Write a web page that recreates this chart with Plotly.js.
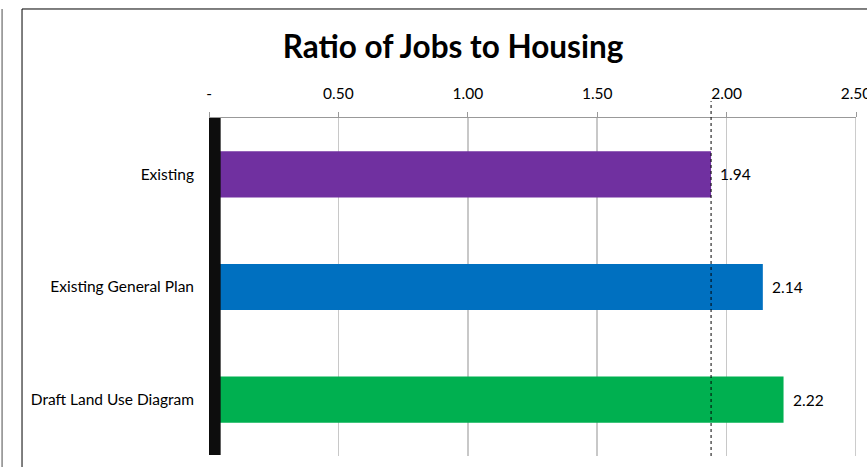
<!DOCTYPE html>
<html>
<head>
<meta charset="utf-8">
<script src="https://cdn.plot.ly/plotly-3.0.1.min.js"></script>
<style>html,body{margin:0;padding:0;background:#fff;}#chart{width:867px;height:467px;}</style>
</head>
<body>
<div id="chart"></div>
<script>
const categories = ["Existing", "Existing General Plan", "Draft Land Use Diagram"];
const ratios = [1.94, 2.14, 2.22];
const barColors = ["#7030A0", "#0070C0", "#00B050"];
const tickValues = [0, 0.5, 1.0, 1.5, 2.0, 2.5];
const tickLabels = ["-", "0.50", "1.00", "1.50", "2.00", "2.50"];
const referenceValue = 1.94;

const FONT = "Lato, 'Open Sans', sans-serif";

const trace = {
  type: "bar",
  orientation: "h",
  y: categories,
  x: ratios,
  marker: { color: barColors },
  width: 0.41,
  hoverinfo: "none"
};

const annotations = ratios.map((v, i) => ({
  x: v, y: categories[i], xref: "x", yref: "y",
  text: v.toFixed(2), showarrow: false,
  xanchor: "left", xshift: 7,
  font: { family: FONT, size: 15.5, color: "#000" }
}));

const shapes = [
  { type: "rect", xref: "paper", yref: "paper", x0: -0.289, x1: 1.03, y0: -0.1, y1: 1.3225,
    line: { color: "#000", width: 1 }, fillcolor: "rgba(0,0,0,0)", layer: "below" },
  { type: "line", xref: "paper", yref: "paper", x0: -0.3198, x1: -0.3198, y0: -0.1, y1: 1.3225,
    line: { color: "#888", width: 1.5 } },
  { type: "line", xref: "x", yref: "paper", x0: 2.5, x1: 2.5, y0: 0, y1: 1,
    line: { color: "#999", width: 1 } },
  { type: "rect", xref: "x", yref: "paper", x0: -0.0128, x1: 0.045, y0: 0.003, y1: 1,
    line: { width: 0 }, fillcolor: "#0d0d0d", layer: "above" },
  { type: "line", xref: "x", yref: "paper", x0: referenceValue, x1: referenceValue, y0: 0, y1: 1.05,
    line: { color: "#000", width: 1, dash: "dot" }, layer: "above" }
];

const layout = {
  width: 867, height: 467,
  margin: { l: 209, r: 11, t: 118, b: 11 },
  paper_bgcolor: "#fff", plot_bgcolor: "#fff",
  showlegend: false,
  title: {
    text: "<b>Ratio of Jobs to Housing</b>",
    font: { family: FONT, size: 31.5, color: "#000" },
    x: 453 / 867, xanchor: "center", xref: "container",
    y: 1 - 47 / 467, yanchor: "middle", yref: "container"
  },
  xaxis: {
    side: "top",
    range: [0, 2.5],
    tickvals: tickValues, ticktext: tickLabels,
    ticks: "outside", ticklen: 5, tickcolor: "#999",
    ticklabelstandoff: 7,
    ticklabeloverflow: "allow",
    showline: true, linecolor: "#999", linewidth: 1,
    showgrid: true, gridcolor: "#c8c8c8", gridwidth: 1.5,
    zeroline: false,
    tickfont: { family: FONT, size: 15.5, color: "#000" },
    fixedrange: true
  },
  yaxis: {
    autorange: "reversed",
    showgrid: false, zeroline: false, showline: false,
    ticks: "", ticklabelstandoff: 14,
    tickfont: { family: FONT, size: 15.5, color: "#000" },
    fixedrange: true
  },
  annotations: annotations,
  shapes: shapes
};

Plotly.newPlot("chart", [trace], layout, { displayModeBar: false, staticPlot: true });
</script>
</body>
</html>
